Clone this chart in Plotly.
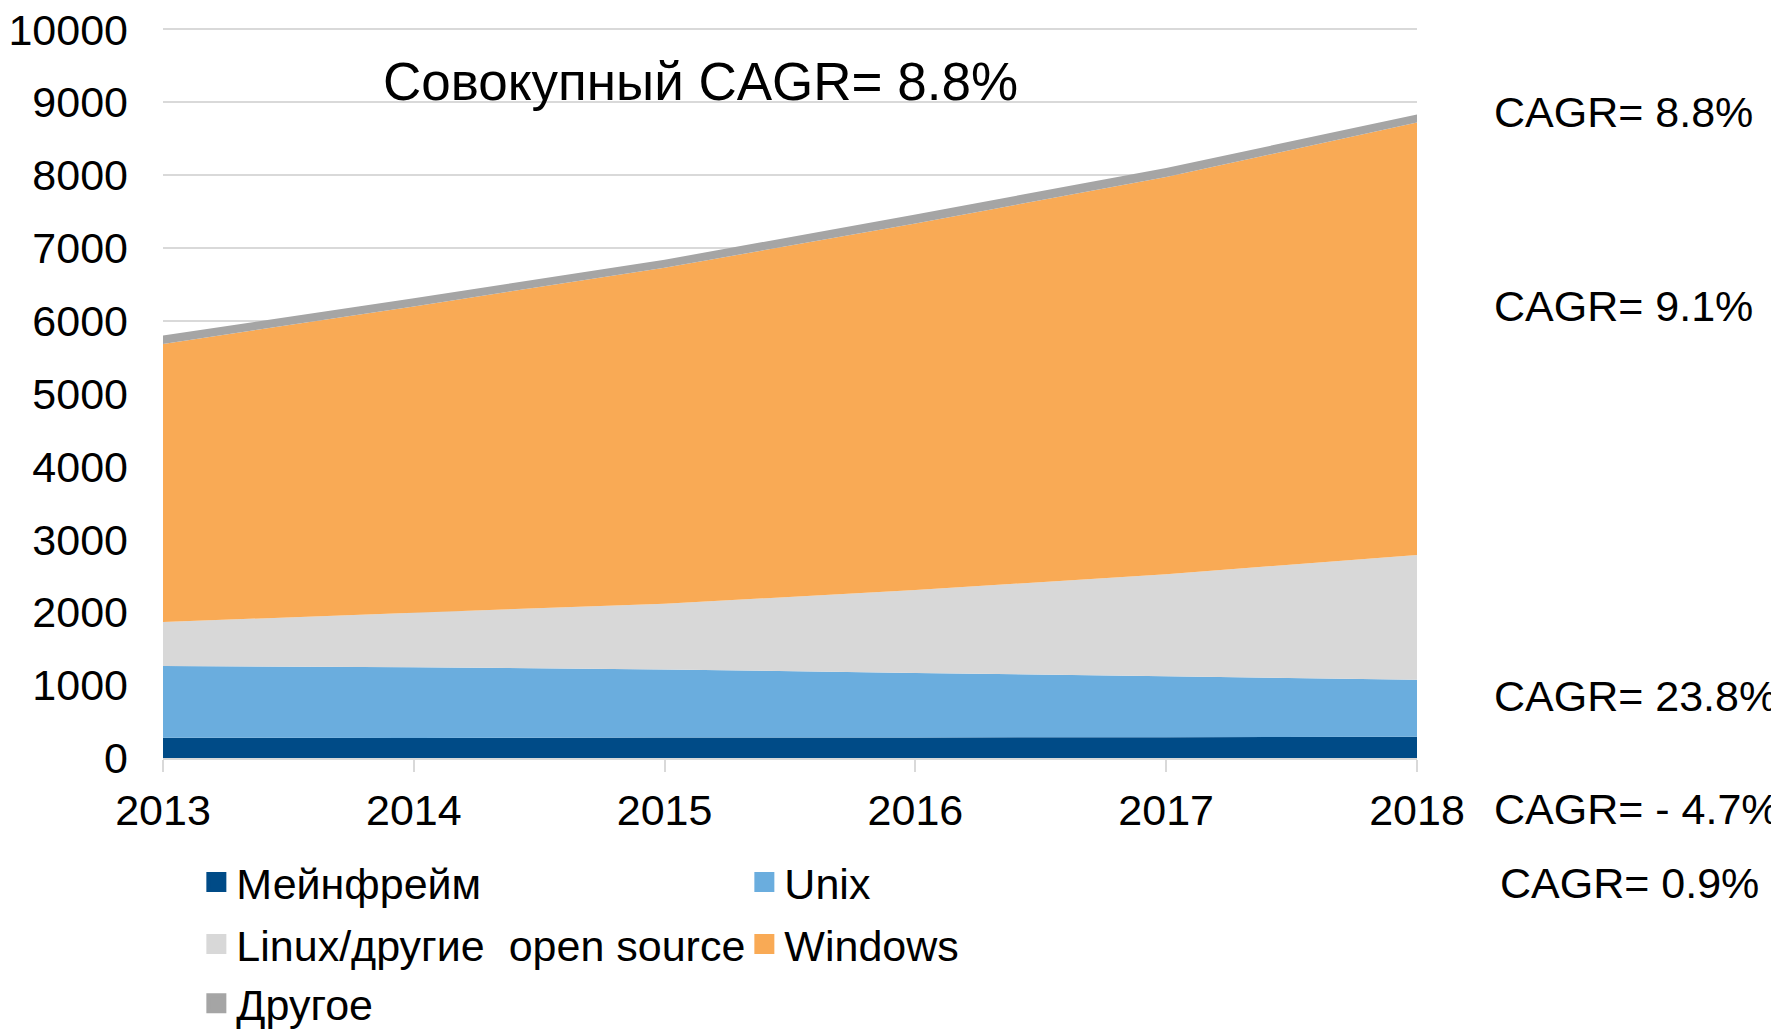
import plotly.graph_objects as go

years = [2013, 2014, 2015, 2016, 2017, 2018]
mainframe = [278, 275, 280, 282, 285, 290]
unix = [984, 971, 935, 886, 836, 785]
linux = [604, 748, 903, 1137, 1402, 1713]
windows = [3817, 4205, 4611, 5031, 5452, 5935]
other = [115, 110, 110, 125, 125, 109]

series_names = ["Мейнфрейм", "Unix", "Linux/другие  open source", "Windows", "Другое"]
series_values = [mainframe, unix, linux, windows, other]
colors = ["#004B87", "#6AADDE", "#D8D8D8", "#F9AA55", "#A5A5A5"]
legend_ids = ["legend", "legend", "legend2", "legend2", "legend3"]

y_ticks = list(range(0, 10001, 1000))
cagr_labels = ["CAGR= 8.8%", "CAGR= 9.1%", "CAGR= 23.8%", "CAGR= - 4.7%", "CAGR= 0.9%"]
title_text = "Совокупный CAGR= 8.8%"

FONT = "Liberation Sans, Arial, sans-serif"
FS = 43

fig = go.Figure()
for name, vals, col in zip(series_names, series_values, colors):
    fig.add_trace(go.Scatter(
        x=years, y=vals, name=name, stackgroup="one", mode="none",
        fillcolor=col, showlegend=False, hoverinfo="x+y+name"))

# legend entries with square symbols
for name, col, lg in zip(series_names, colors, legend_ids):
    fig.add_trace(go.Scatter(
        x=[None], y=[None], name=name, mode="markers", legend=lg,
        marker=dict(symbol="square", size=16, color=col,
                    line=dict(color=col, width=4)), showlegend=True))

# CAGR labels at the right
cagr_pos = [(1.0598, 0.885), (1.0598, 0.619), (1.0598, 0.085), (1.0598, -0.070), (1.0646, -0.171)]
for txt, (px, py) in zip(cagr_labels, cagr_pos):
    fig.add_annotation(text=txt, xref="paper", yref="paper", x=px, y=py,
                       xanchor="left", yanchor="middle", showarrow=False,
                       font=dict(size=FS, color="#000000", family=FONT))

fig.add_annotation(text=title_text, xref="paper", yref="paper", x=0.429, y=0.927,
                   xanchor="center", yanchor="middle", showarrow=False,
                   font=dict(size=53, color="#000000", family=FONT))

leg_common = dict(orientation="h", xanchor="left", yanchor="middle",
                  entrywidth=503, font=dict(size=FS, family=FONT, color="#000000"),
                  traceorder="normal", bgcolor="rgba(0,0,0,0)", itemsizing="trace")

fig.update_layout(
    width=1771, height=1022,
    margin=dict(l=155, r=362, t=20, b=272, autoexpand=False),
    plot_bgcolor="white", paper_bgcolor="white",
    font=dict(family=FONT, size=FS, color="#000000"),
    legend=dict(x=0.0266, y=-0.170, **leg_common),
    legend2=dict(x=0.0266, y=-0.255, **leg_common),
    legend3=dict(x=0.0266, y=-0.336, **leg_common),
    xaxis=dict(range=[2013, 2018], tickmode="array", tickvals=years,
               ticktext=[str(y) for y in years], showgrid=False,
               showline=True, linecolor="#D9D9D9", linewidth=2,
               ticks="outside", ticklen=12, tickwidth=2, tickcolor="#D9D9D9",
               ticklabelstandoff=1, zeroline=False, automargin=False,
               tickfont=dict(size=FS, family=FONT)),
    yaxis=dict(range=[0, 10020], tickmode="array", tickvals=y_ticks,
               ticktext=[str(v) for v in y_ticks], showgrid=True,
               gridcolor="#D9D9D9", gridwidth=2, zeroline=False, showline=False,
               ticks="", ticklabelstandoff=34, automargin=False,
               ticklabeloverflow="allow",
               tickfont=dict(size=FS, family=FONT)),
)

fig.write_html("out.html")
